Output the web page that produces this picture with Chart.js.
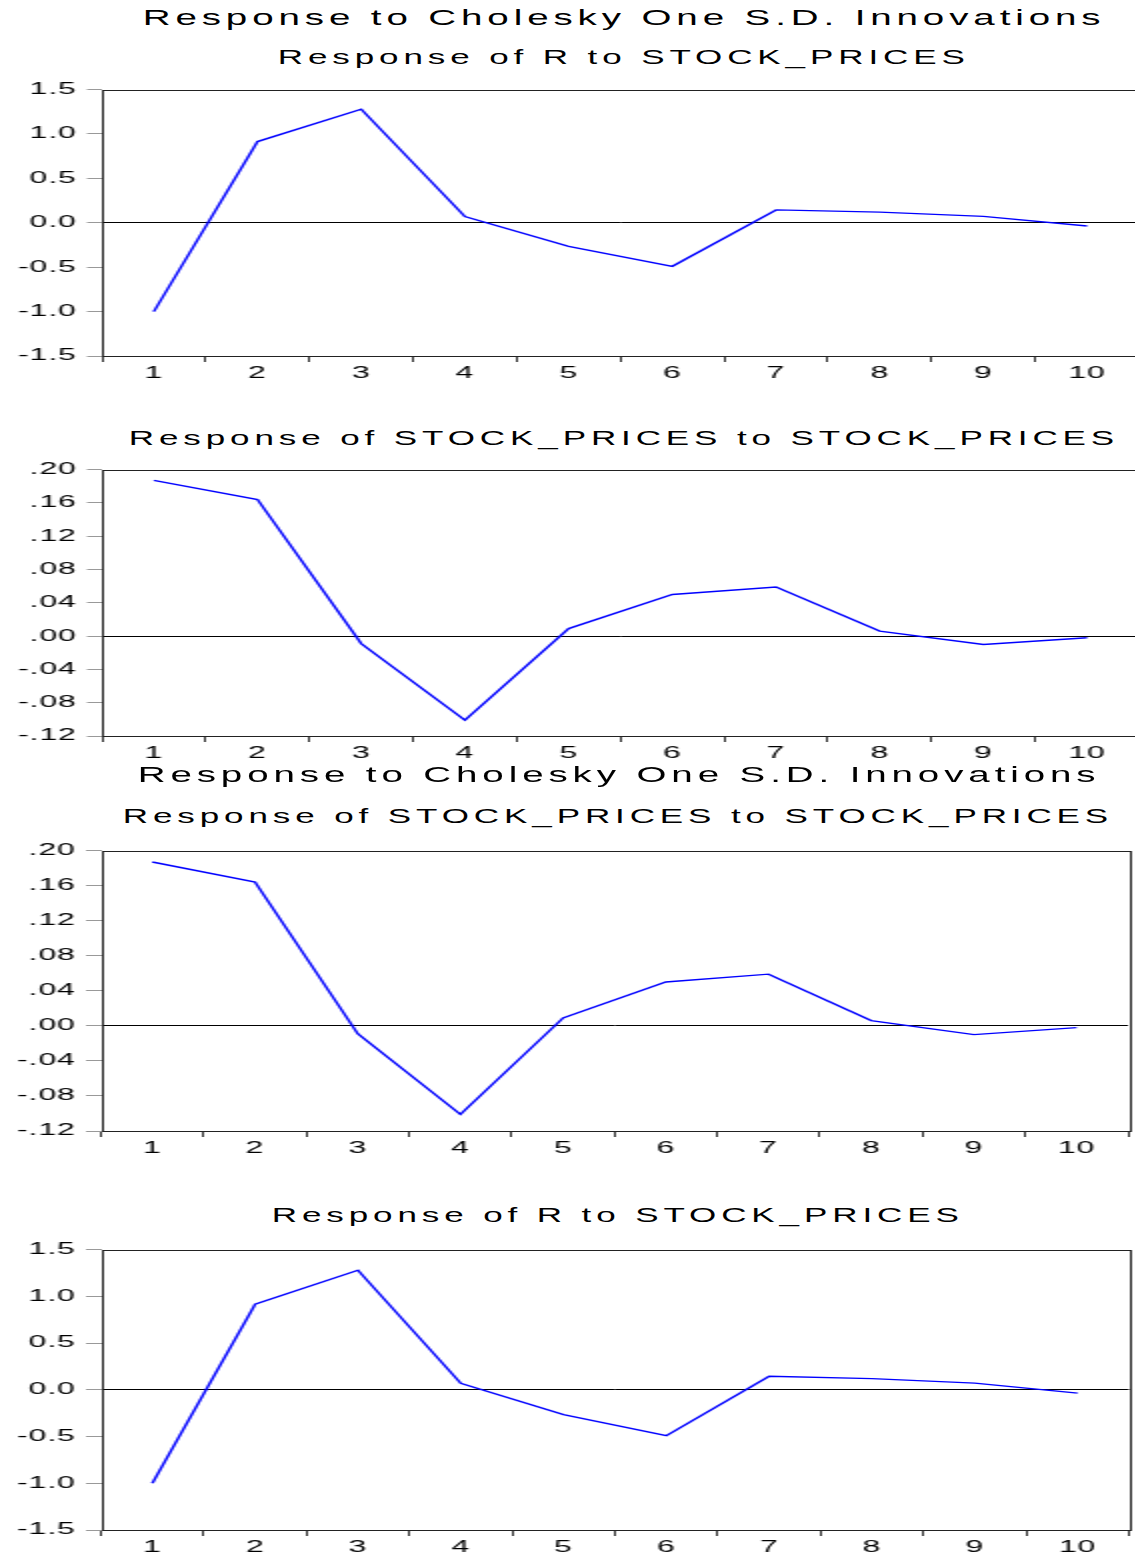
<!DOCTYPE html>
<html>
<head>
<meta charset="utf-8">
<script src="https://cdn.jsdelivr.net/npm/chart.js@4.4.1/dist/chart.umd.min.js"></script>
<style>
    body { margin: 0; background: #fff; overflow: hidden; width: 1135px; height: 1558px; position: relative;
           font-family: "Liberation Sans", Arial, sans-serif; }
    .title { position: absolute; width: 1400px; height: 26px; line-height: 26px; text-align: center; white-space: nowrap; color: #000; }
    .title span { display: inline-block; transform: scaleX(1.75); letter-spacing: 2.8px; }
    .main { font-size: 22px; }
    .sub { font-size: 20px; }
    canvas { position: absolute; left: 0; }
</style>
</head>
<body>
<script>
// impulse response periods
const periods = ['1', '2', '3', '4', '5', '6', '7', '8', '9', '10'];

// Response of R to STOCK_PRICES
const rResponse = [-1.0, 0.915, 1.28, 0.07, -0.265, -0.49, 0.145, 0.12, 0.072, -0.036];
// Response of STOCK_PRICES to STOCK_PRICES
const stockResponse = [0.187, 0.164, -0.009, -0.101, 0.009, 0.050, 0.059, 0.006, -0.010, -0.002];

const rTickValues = [-1.5, -1.0, -0.5, 0, 0.5, 1.0, 1.5];
const rTickLabels = ['-1.5', '-1.0', '-0.5', '0.0', '0.5', '1.0', '1.5'];
const stockTickValues = [-0.12, -0.08, -0.04, 0, 0.04, 0.08, 0.12, 0.16, 0.20];
const stockTickLabels = ['-.12', '-.08', '-.04', '.00', '.04', '.08', '.12', '.16', '.20'];

const mainTitle = 'Response to Cholesky One S.D. Innovations';
const rTitle = 'Response of R to STOCK_PRICES';
const stockTitle = 'Response of STOCK_PRICES to STOCK_PRICES';

const STRETCH = 2; // canvases are drawn narrow and stretched sideways

function addTitle(text, cls, centerX, centerY) {
    const div = document.createElement('div');
    div.className = 'title ' + cls;
    div.style.left = (centerX - 700 + 2) + 'px';
    div.style.top = (centerY - 13) + 'px';
    const span = document.createElement('span');
    span.textContent = text;
    div.appendChild(span);
    document.body.appendChild(div);
}

const framePlugin = {
    id: 'frame',
    beforeDraw(chart) {
        chart.ctx.letterSpacing = '0.5px';
    },
    afterDraw(chart) {
        const a = chart.chartArea;
        const ctx = chart.ctx;
        ctx.save();
        ctx.strokeStyle = '#222';
        ctx.lineWidth = 1;
        ctx.strokeRect(Math.round(a.left) + 0.5, Math.round(a.top) + 0.5,
                       Math.round(a.right - a.left), Math.round(a.bottom - a.top));
        ctx.restore();
    }
};

function addPanel(p) {
    const padTop = 14, xAxisH = 32;
    const canvas = document.createElement('canvas');
    const cssH = p.bottom - p.top + padTop + xAxisH;
    canvas.width = p.cssWidth / STRETCH;
    canvas.height = cssH;
    canvas.style.width = p.cssWidth + 'px';
    canvas.style.height = cssH + 'px';
    canvas.style.top = (p.top - padTop) + 'px';
    document.body.appendChild(canvas);

    const tickFont = { family: '"Liberation Sans", Arial, sans-serif', size: 16 };

    new Chart(canvas, {
        type: 'line',
        data: {
            labels: periods,
            datasets: [{
                data: p.values,
                borderColor: '#0000ff',
                borderWidth: 1.4,
                pointRadius: 0,
                tension: 0,
                fill: false
            }]
        },
        options: {
            responsive: false,
            devicePixelRatio: 1,
            animation: false,
            events: [],
            layout: { padding: { top: padTop, right: (p.cssWidth - p.right) / STRETCH, left: 0, bottom: 0 } },
            plugins: { legend: { display: false }, title: { display: false }, tooltip: { enabled: false } },
            scales: {
                x: {
                    type: 'category',
                    offset: true,
                    border: { display: false },
                    grid: { offset: true, drawOnChartArea: false, drawTicks: true, tickLength: 6, tickColor: '#333', tickWidth: 1 },
                    ticks: { color: '#000', font: tickFont, padding: 2, maxRotation: 0, autoSkip: false },
                    afterFit(scale) { scale.height = xAxisH; }
                },
                y: {
                    min: p.tickValues[0],
                    max: p.tickValues[p.tickValues.length - 1],
                    border: { display: false },
                    grid: {
                        drawTicks: true,
                        tickLength: 7.5,
                        tickColor: '#999',
                        lineWidth: 1,
                        color: ctx => (ctx.tick && ctx.tick.value === 0 ? '#000' : 'rgba(0,0,0,0)')
                    },
                    ticks: {
                        color: '#000',
                        font: tickFont,
                        padding: 5,
                        callback: (v, i) => p.tickLabels[i]
                    },
                    afterBuildTicks(scale) { scale.ticks = p.tickValues.map(v => ({ value: v })); },
                    afterFit(scale) { scale.width = p.left / STRETCH; }
                }
            }
        },
        plugins: [framePlugin]
    });
}

addTitle(mainTitle, 'main', 622, 18);
addTitle(rTitle, 'sub', 622, 57);
addPanel({ values: rResponse, tickValues: rTickValues, tickLabels: rTickLabels,
           left: 102, right: 1139, top: 89, bottom: 356, cssWidth: 1142 });

addTitle(stockTitle, 'sub', 622, 438);
addPanel({ values: stockResponse, tickValues: stockTickValues, tickLabels: stockTickLabels,
           left: 102, right: 1139, top: 469, bottom: 736, cssWidth: 1142 });

addTitle(mainTitle, 'main', 617, 775);
addTitle(stockTitle, 'sub', 616, 816);
addPanel({ values: stockResponse, tickValues: stockTickValues, tickLabels: stockTickLabels,
           left: 101, right: 1128, top: 850, bottom: 1131, cssWidth: 1136 });

addTitle(rTitle, 'sub', 616, 1215);
addPanel({ values: rResponse, tickValues: rTickValues, tickLabels: rTickLabels,
           left: 101, right: 1129, top: 1249, bottom: 1530, cssWidth: 1136 });
</script>
</body>
</html>
